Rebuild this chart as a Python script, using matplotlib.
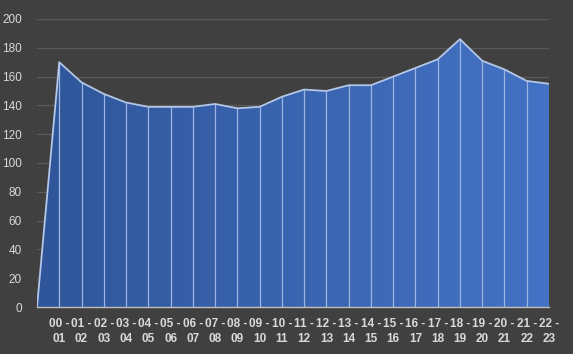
import numpy as np
import matplotlib
matplotlib.use("Agg")
import matplotlib.pyplot as plt
from matplotlib.colors import LinearSegmentedColormap

# du lieu: luot theo tung khung gio
hours = ["", "00 -\n01", "01 -\n02", "02 -\n03", "03 -\n04", "04 -\n05", "05 -\n06",
         "06 -\n07", "07 -\n08", "08 -\n09", "09 -\n10", "10 -\n11", "11 -\n12",
         "12 -\n13", "13 -\n14", "14 -\n15", "15 -\n16", "16 -\n17", "17 -\n18",
         "18 -\n19", "19 -\n20", "20 -\n21", "21 -\n22", "22 -\n23"]
values = [0, 170, 156, 148, 142, 139, 139, 139, 141, 138, 139, 146, 151,
          150, 154, 154, 160, 166, 172, 186, 171, 165, 157, 155]
y_ticks = [0, 20, 40, 60, 80, 100, 120, 140, 160, 180, 200]

bg = "#404040"
plt.rcParams['font.family'] = ['Liberation Sans', 'DejaVu Sans']

fig = plt.figure(figsize=(5.73, 3.54), dpi=100, facecolor=bg)
ax = fig.add_axes([37 / 573, 1 - 307 / 354, 512 / 573, 288 / 354])
ax.set_facecolor(bg)

x = np.arange(len(values))
ax.set_xlim(0, len(values) - 1)
ax.set_ylim(0, 200)

# luoi ngang
for t in y_ticks[1:]:
    ax.axhline(t, color="#5a5a5a", lw=0.9, zorder=0)

# vung to mau gradient
poly = ax.fill_between(x, values, 0, color="none", zorder=1)
cmap = LinearSegmentedColormap.from_list("b", ["#2f569a", "#4472c4"])
grad = np.linspace(0, 1, 256).reshape(1, -1)
img = ax.imshow(grad, cmap=cmap, aspect="auto", extent=[0, len(values) - 1, 0, 200],
                zorder=1)
img.set_clip_path(poly.get_paths()[0], transform=ax.transData)

# duong doc tai tung diem
ax.vlines(x[1:-1], 0, values[1:-1], color="#9db5e3", lw=0.9, zorder=2)
ax.plot(x, values, color="#b4c7e7", lw=1.3, zorder=3)

ax.set_yticks(y_ticks)
ax.set_yticklabels([str(t) for t in y_ticks], color="#d9d9d9", fontsize=8.5)
ax.set_xticks(x)
ax.set_xticklabels(hours, color="#d9d9d9", fontsize=8.5, fontweight="bold",
                   linespacing=1.35)
ax.tick_params(axis="y", length=0, pad=11)
ax.tick_params(axis="x", length=0, pad=8)

for s in ["top", "right", "left"]:
    ax.spines[s].set_visible(False)
ax.spines["bottom"].set_color("#bfbfbf")
ax.spines["bottom"].set_linewidth(1.0)
ax.spines["bottom"].set_zorder(4)

fig.savefig("out.png", dpi=100, facecolor=bg)
